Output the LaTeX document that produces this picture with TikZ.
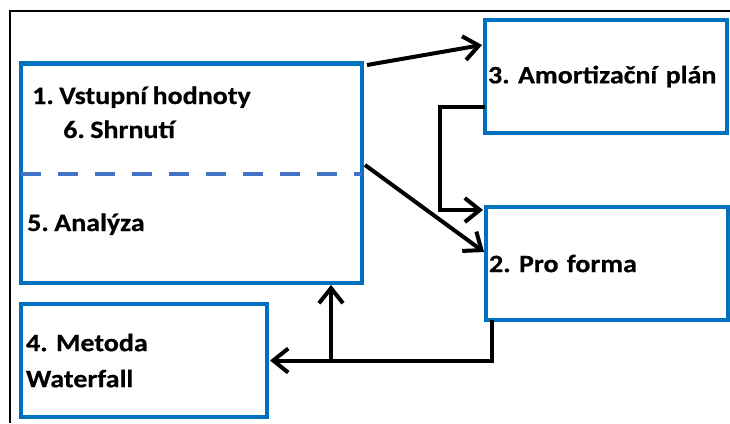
\documentclass[tikz,border=0pt]{standalone}
\usepackage{fontspec}
\setmainfont{Carlito}[FakeStretch=1.12,WordSpace=0.85,BoldFeatures={FakeBold=0.5}]
\usepackage{tikz}
\usetikzlibrary{arrows.meta}
\definecolor{boxblue}{HTML}{0070C0}
\definecolor{dashblue}{HTML}{4472C4}
\frenchspacing

\begin{document}
\begin{tikzpicture}[x=1pt,y=-1pt,>={Straight Barb[length=15pt,width=24pt]},
  box/.style={draw=boxblue,line width=4.5pt,rectangle,outer sep=0pt,inner sep=3pt,anchor=north west,align=left,font=\fontsize{25}{36}\selectfont\bfseries},
  lbl/.style={anchor=base west,inner sep=0pt,font=\fontsize{25}{30}\selectfont\bfseries},
  conn/.style={->,line width=4pt,black}]

\useasboundingbox (0,0) rectangle (730,423);
\draw[line width=2pt] (10,423) -- (10,11) -- (730,11);

\node[box,minimum width=341pt,minimum height=219.5pt] (B1) at (21,63.5) {};
\node[box,text width=236pt,minimum height=113pt] (B3) at (485,20) {3. Amortizační plán};
\node[box,text width=236pt,minimum height=113pt] (B2) at (486,207) {2. Pro forma};
\node[box,inner sep=5pt,text width=236pt,minimum height=113pt] (B4) at (21,304) {4. Metoda\\Waterfall};

\node[lbl] (T1) at (32,104) {1. Vstupní hodnoty};
\node[lbl] (T6) at (63,138) {6. Shrnutí};
\node[lbl] (T5) at (27,231) {5. Analýza};

\coordinate (D) at (0,174);
\draw[dashblue,line width=4pt,dash pattern=on 20pt off 17pt] (B1.west |- D) -- (B1.east |- D);

\draw[conn] ([xshift=5pt,yshift=-1.5pt]B1.north east) -- ([xshift=-3pt,yshift=-25pt]B3.north west);
\draw[conn] ([xshift=3pt,yshift=-101.5pt]B1.north east) -- ([xshift=-2pt,yshift=-45pt]B2.north west);
\draw[conn] ([yshift=-87pt]B3.north west) -| ([xshift=-46pt,yshift=-3pt]B2.north west) -- ([xshift=-3pt,yshift=-3pt]B2.north west);
\draw[conn] ([xshift=6pt]B2.south west) |- ([xshift=3pt]B4.east);
\path ([xshift=310pt]B1.south west) coordinate (J);
\draw[conn] (J |- B4.east) -- ([yshift=-2pt]J);

\end{tikzpicture}
\end{document}
